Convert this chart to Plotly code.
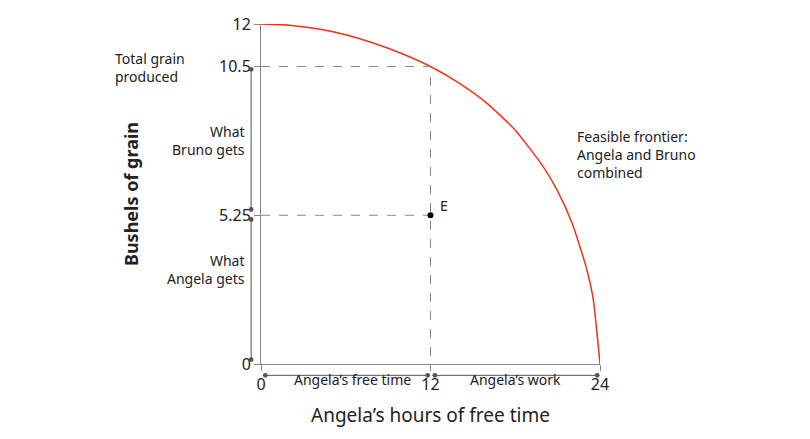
import plotly.graph_objects as go

# Feasible frontier
frontier_x = [0, 2, 4, 6, 8, 10, 12, 14, 16, 18, 20, 21, 22, 23, 23.5, 24]
frontier_y = [12, 11.96, 11.83, 11.62, 11.32, 10.95, 10.5, 9.92, 9.2, 8.25, 6.95, 6.1, 5.0, 3.45, 2.35, 0]

total_grain = 10.5
bruno_split = 5.25
free_time = 12
x_ticks = [0, 12, 24]
y_ticks = [0, 5.25, 10.5, 12]
y_tick_text = ["0", "5.25", "10.5", "12"]

X_MAX, Y_MAX = 24, 12
PLOT_W, PLOT_H = 339, 340
FONT = "Noto Sans"
GREY = "#888888"

fig = go.Figure()

fig.add_trace(go.Scatter(x=frontier_x, y=frontier_y, mode="lines", line=dict(color="#e8351e", width=1.5, shape="spline", smoothing=0.6),
                         hoverinfo="skip"))
fig.add_trace(go.Scatter(x=[0, free_time, free_time], y=[total_grain, total_grain, 0], mode="lines",
                         line=dict(color=GREY, width=1, dash="dash"), hoverinfo="skip"))
fig.add_trace(go.Scatter(x=[0, free_time], y=[bruno_split, bruno_split], mode="lines",
                         line=dict(color=GREY, width=1, dash="dash"), hoverinfo="skip"))
fig.add_trace(go.Scatter(x=[free_time], y=[bruno_split], mode="markers", marker=dict(color="black", size=6)))

def px(x):
    return x / X_MAX

def py(y):
    return y / Y_MAX

def arrow(x0, y0, x1, y1):
    # data coords -> paper position, tail as pixel offset
    fig.add_annotation(x=px(x1), y=py(y1), xref="paper", yref="paper",
                       ax=(x0 - x1) * PLOT_W / X_MAX, ay=-(y0 - y1) * PLOT_H / Y_MAX, text="",
                       showarrow=True, arrowhead=6, arrowside="end+start", arrowsize=1.2, arrowwidth=1, arrowcolor="#555")

# vertical arrows left of the y axis
arrow(-0.7, 0.1, -0.7, bruno_split - 0.15)
arrow(-0.7, bruno_split + 0.15, -0.7, total_grain - 0.1)
# horizontal arrows below the x axis
arrow(0.2, -0.4, free_time - 0.2, -0.4)
arrow(free_time + 0.2, -0.4, 23.8, -0.4)

def label(x, y, text, xanchor="center"):
    fig.add_annotation(x=px(x), y=py(y), xref="paper", yref="paper", text=text, showarrow=False, xanchor=xanchor,
                       align="left" if xanchor == "left" else ("right" if xanchor == "right" else "center"),
                       font=dict(family=FONT, size=14, color="#222"))

label(-10.5, 11.2, "Total grain<br>produced", xanchor="left")
label(-1.0, 7.9, "What<br>Bruno gets", xanchor="right")
label(-1.0, 2.6, "What<br>Angela gets", xanchor="right")
label(6.5, -0.95, "Angela’s free time")
label(18, -0.95, "Angela’s work")
label(22.2, 7.4, "Feasible frontier:<br>Angela and Bruno<br>combined", xanchor="left")
label(12.5, 5.6, "E", xanchor="left")

fig.update_xaxes(range=[0, X_MAX], tickvals=x_ticks, showgrid=False, zeroline=False, showline=True, linecolor=GREY,
                 ticks="outside", ticklen=6, tickcolor=GREY, tickfont=dict(family=FONT, size=16, color="#222"),
                 automargin=False,
                 title=dict(text="Angela’s hours of free time", font=dict(family=FONT, size=19, color="#222"), standoff=14))
fig.update_yaxes(range=[0, Y_MAX], tickvals=y_ticks, ticktext=y_tick_text, showgrid=False, zeroline=False, showline=True,
                 linecolor=GREY, ticks="outside", ticklen=6, tickcolor=GREY, automargin=False,
                 tickfont=dict(family=FONT, size=16, color="#222"),
                 title=dict(text="<b>Bushels of grain</b>", font=dict(family=FONT, size=18, color="#222"), standoff=75))

fig.update_layout(width=810, height=439, margin=dict(l=253, r=218, t=16, b=83, autoexpand=False), showlegend=False,
                  plot_bgcolor="white", paper_bgcolor="white")

fig.write_html("out.html")
